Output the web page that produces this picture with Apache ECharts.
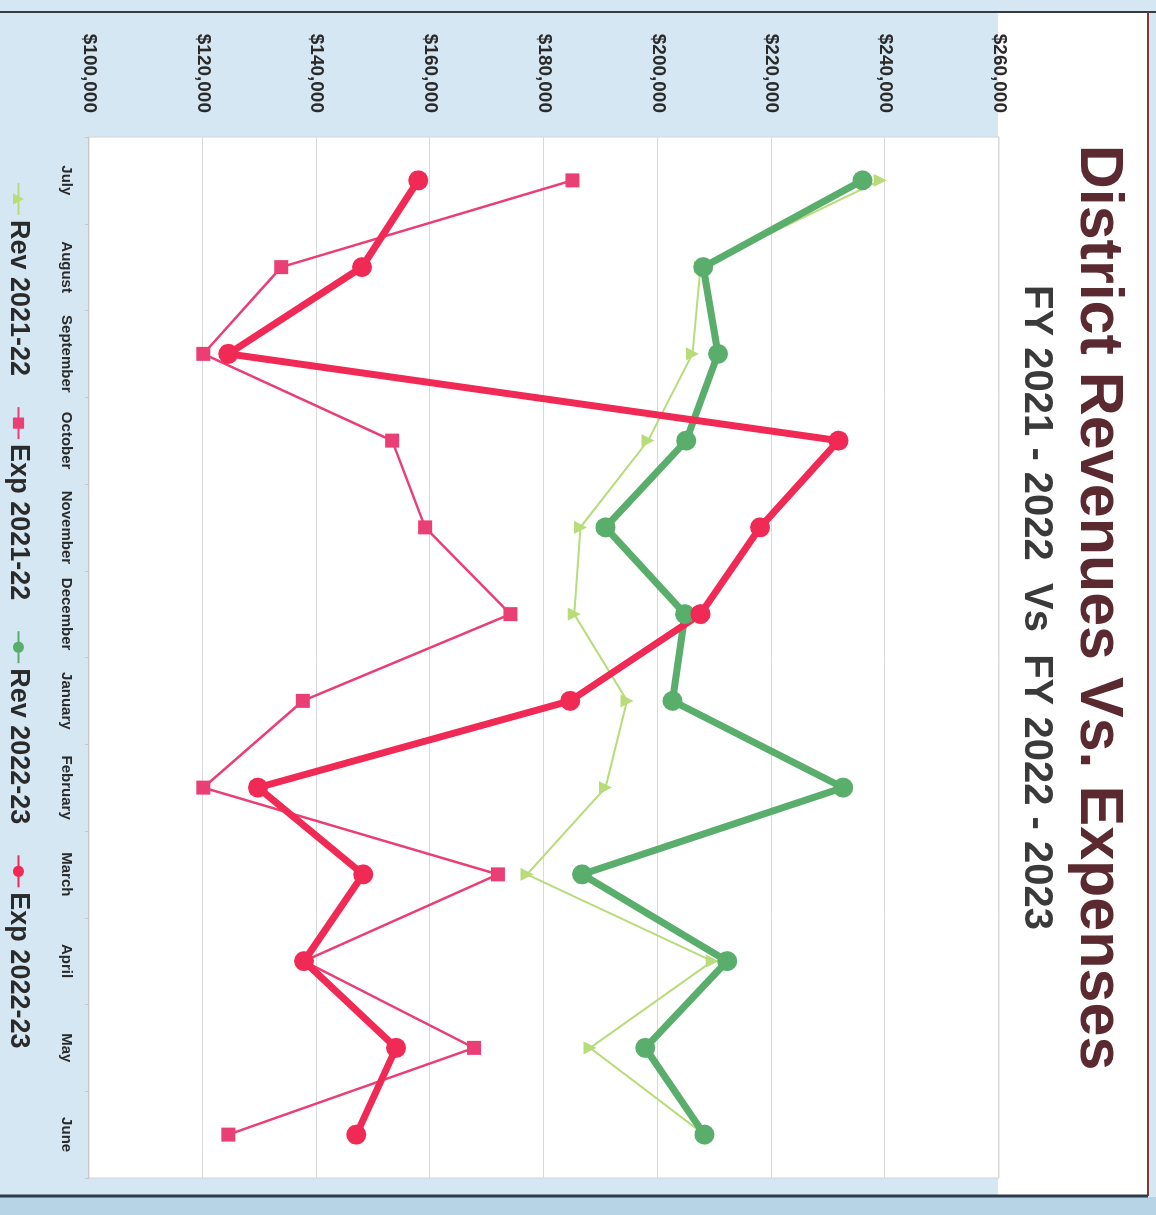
<!DOCTYPE html>
<html>
<head>
<meta charset="utf-8">
<title>District Revenues Vs. Expenses</title>
<script src="https://cdn.jsdelivr.net/npm/echarts@6/dist/echarts.min.js"></script>
<style>
    html, body { margin: 0; padding: 0; overflow: hidden; }
    body { width: 1156px; height: 1215px; background: #d5e7f2; position: relative; }
    /* the printed chart was photographed sideways, so the whole chart is turned a quarter clockwise */
    #mChart {
        position: absolute; left: 0; top: 0;
        width: 1215px; height: 1156px;
        transform-origin: 0 0;
        transform: translate(1156px, 0) rotate(90deg);
    }
</style>
</head>
<body>
<div id="mChart"></div>
<script>
var months = ['July', 'August', 'September', 'October', 'November', 'December',
    'January', 'February', 'March', 'April', 'May', 'June'];
var valueTicks = [100000, 120000, 140000, 160000, 180000, 200000, 220000, 240000, 260000];

var rev2122 = [239100, 207500, 206100, 198300, 186400, 185300, 194600, 190800, 177000, 209600, 188100, 208200];
var exp2122 = [185000, 133800, 120100, 153300, 159100, 174100, 137600, 120100, 171900, 137800, 167700, 124500];
var rev2223 = [236000, 208000, 210600, 205000, 190800, 204800, 202600, 232600, 186700, 212200, 197800, 208200];
var exp2223 = [157900, 148000, 124500, 231800, 218000, 207500, 184600, 129700, 148200, 137800, 154000, 147000];

var font = "'Liberation Sans', Arial, Helvetica, sans-serif";

function money(v) {
    return '$' + v.toString().replace(/\B(?=(\d{3})+(?!\d))/g, ',');
}

function line_series(name, data, color, width, symbol, size) {
    return {
        name: name,
        type: 'line',
        data: data,
        symbol: symbol,
        symbolSize: size,
        showAllSymbol: true,
        lineStyle: { color: color, width: width },
        itemStyle: { color: color },
        emphasis: { disabled: true }
    };
}

var chart = echarts.init(document.getElementById('mChart'));
var opt = {
    animation: false,
    backgroundColor: 'transparent',
    textStyle: { fontFamily: font },
    graphic: [
        // white band behind the titles
        { type: 'rect', shape: { x: 12, y: 8, width: 1183, height: 150 }, style: { fill: '#ffffff' }, z: -10 },
        // darker strip outside the frame
        { type: 'rect', shape: { x: 1197, y: 0, width: 18, height: 1156 }, style: { fill: '#b7d3e6' }, z: -10 },
        // frame lines
        { type: 'line', shape: { x1: 12, y1: 0, x2: 12, y2: 1156 }, style: { stroke: '#3a3a3a', lineWidth: 2 }, z: -5 },
        { type: 'line', shape: { x1: 12, y1: 8, x2: 1196, y2: 8 }, style: { stroke: '#7a3a3c', lineWidth: 2 }, z: -5 },
        { type: 'line', shape: { x1: 1196, y1: 8, x2: 1196, y2: 1156 }, style: { stroke: '#2f3b48', lineWidth: 3 }, z: -5 }
    ],
    title: [
        {
            text: 'District Revenues Vs. Expenses',
            left: 'center',
            top: 23,
            textStyle: { fontFamily: font, fontSize: 61, fontWeight: 'bold', color: '#5b2a31' }
        },
        {
            text: 'FY 2021 - 2022  Vs  FY 2022 - 2023',
            left: 'center',
            top: 95,
            textStyle: { fontFamily: font, fontSize: 40, fontWeight: 'bold', color: '#3a3a3a' }
        }
    ],
    legend: {
        left: 177,
        top: 1119,
        itemWidth: 32,
        itemHeight: 14,
        itemGap: 30,
        textStyle: { fontFamily: font, fontSize: 27, fontWeight: 'bold', color: '#2a2a2a' },
        data: ['Rev 2021-22', 'Exp 2021-22', 'Rev 2022-23', 'Exp 2022-23']
    },
    grid: {
        left: 137,
        right: 37,
        top: 157,
        bottom: 89,
        show: true,
        backgroundColor: '#ffffff',
        borderColor: '#d4d4d4',
        borderWidth: 1
    },
    xAxis: {
        type: 'category',
        data: months,
        boundaryGap: true,
        axisLine: { show: true, lineStyle: { color: '#c8c8c8' } },
        axisTick: { show: true, length: 4, lineStyle: { color: '#c8c8c8' } },
        axisLabel: {
            margin: 15,
            interval: 0,
            fontFamily: font,
            fontSize: 15,
            fontWeight: 'bold',
            color: '#2a2a2a'
        }
    },
    yAxis: {
        type: 'value',
        min: valueTicks[0],
        max: valueTicks[valueTicks.length - 1],
        interval: valueTicks[1] - valueTicks[0],
        axisLine: { show: false },
        axisTick: { show: false },
        splitLine: { show: true, lineStyle: { color: '#d9d9d9', width: 1 } },
        axisLabel: {
            margin: 24,
            fontFamily: font,
            fontSize: 19,
            fontWeight: 'bold',
            color: '#2a2a2a',
            formatter: money
        }
    },
    series: [
        line_series('Rev 2021-22', rev2122, '#b8dc7a', 2, 'triangle', 13),
        line_series('Exp 2021-22', exp2122, '#ea3f74', 2.5, 'rect', 14),
        line_series('Rev 2022-23', rev2223, '#5aae6c', 7, 'circle', 20),
        line_series('Exp 2022-23', exp2223, '#f02a55', 7, 'circle', 20)
    ]
};
chart.setOption(opt);
</script>
</body>
</html>
